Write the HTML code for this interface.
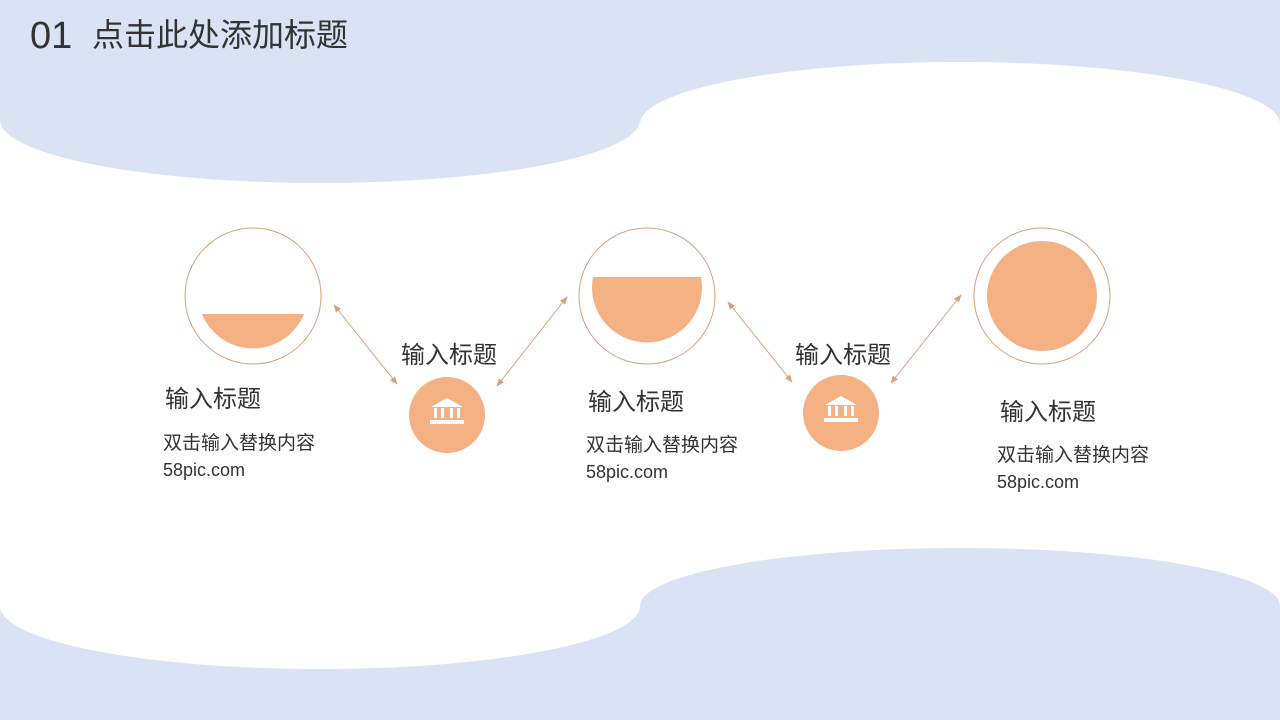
<!DOCTYPE html>
<html><head><meta charset="utf-8"><style>
html,body{margin:0;padding:0;width:1280px;height:720px;overflow:hidden;background:#dae3f3}
svg{position:absolute;left:0;top:0}
text{font-family:"Liberation Sans","Noto Sans CJK SC",sans-serif}
</style></head><body>
<svg width="1280" height="720" viewBox="0 0 1280 720">
<defs>
<marker id="a" viewBox="0 0 10 10" refX="9" refY="5" markerWidth="8" markerHeight="8" orient="auto-start-reverse"><path d="M0,1 L10,5 L0,9 z" fill="#d9a07a"/></marker>
</defs>
<rect width="1280" height="720" fill="#dae3f3"/>
<rect x="0" y="122" width="1280" height="485" fill="#fff"/>
<ellipse cx="960" cy="124" rx="320" ry="62" fill="#fff"/>
<ellipse cx="320" cy="606" rx="320" ry="63" fill="#fff"/>
<ellipse cx="320" cy="120" rx="320" ry="63" fill="#dae3f3"/>
<ellipse cx="960" cy="606" rx="320" ry="58" fill="#dae3f3"/>
<text x="30" y="48" font-size="38" fill="#333">01</text>
<text x="92" y="46" font-size="32" fill="#333">点击此处添加标题</text>
<g stroke="#d9a07a" stroke-width="1" fill="none">
<circle cx="253" cy="296" r="68"/><circle cx="647" cy="296" r="68"/><circle cx="1042" cy="296" r="68"/>
<line x1="334" y1="305" x2="397" y2="384" marker-start="url(#a)" marker-end="url(#a)"/>
<line x1="497" y1="386" x2="567" y2="297" marker-start="url(#a)" marker-end="url(#a)"/>
<line x1="728" y1="302" x2="792" y2="382" marker-start="url(#a)" marker-end="url(#a)"/>
<line x1="891" y1="383" x2="961" y2="295" marker-start="url(#a)" marker-end="url(#a)"/>
</g>
<g fill="#f4b183">
<path d="M202,314 L304,314 A55,55 0 0 1 202,314 Z"/>
<path d="M593,277 L701,277 A55,55 0 1 1 593,277 Z"/>
<circle cx="1042" cy="296" r="55"/>
<circle cx="447" cy="415" r="38"/><circle cx="841" cy="413" r="38"/>
</g>
<g fill="#fff">
<g transform="translate(447,412)"><path d="M-16,-5 L0,-14 L16,-5 Z"/><rect x="-13" y="-4" width="3" height="10"/><rect x="-6" y="-4" width="3" height="10"/><rect x="3" y="-4" width="3" height="10"/><rect x="10" y="-4" width="3" height="10"/><rect x="-17" y="8" width="34" height="4"/></g>
<g transform="translate(841,410)"><path d="M-16,-5 L0,-14 L16,-5 Z"/><rect x="-13" y="-4" width="3" height="10"/><rect x="-6" y="-4" width="3" height="10"/><rect x="3" y="-4" width="3" height="10"/><rect x="10" y="-4" width="3" height="10"/><rect x="-17" y="8" width="34" height="4"/></g>
</g>
<g fill="#333">
<text x="165" y="407" font-size="24">输入标题</text>
<text x="163" y="449" font-size="19">双击输入替换内容</text>
<text x="163" y="476" font-size="18">58pic.com</text>
<text x="401" y="363" font-size="24">输入标题</text>
<text x="588" y="410" font-size="24">输入标题</text>
<text x="586" y="451" font-size="19">双击输入替换内容</text>
<text x="586" y="478" font-size="18">58pic.com</text>
<text x="795" y="363" font-size="24">输入标题</text>
<text x="1000" y="420" font-size="24">输入标题</text>
<text x="997" y="461" font-size="19">双击输入替换内容</text>
<text x="997" y="488" font-size="18">58pic.com</text>
</g>
</svg>
</body></html>
